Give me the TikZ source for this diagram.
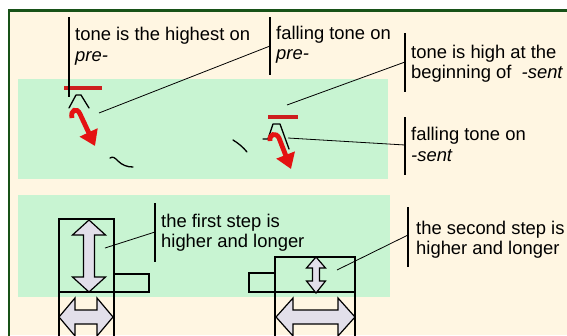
\documentclass[tikz,border=0pt]{standalone}
\usepackage{fontspec}
\setmainfont{Liberation Sans}
\usetikzlibrary{arrows.meta}
\definecolor{cream}{RGB}{255,246,226}
\definecolor{mint}{RGB}{200,244,210}
\definecolor{dkgreen}{RGB}{24,82,24}
\definecolor{tonered}{RGB}{228,18,18}
\definecolor{barred}{RGB}{205,30,30}
\definecolor{arrowfill}{RGB}{226,223,234}
\begin{document}
\begin{tikzpicture}[x=1pt,y=-1pt,
  lbl/.style={anchor=base west, inner sep=0pt, font=\fontsize{18.4}{21}\selectfont},
  labelbar/.style={draw=black, line width=1.3pt},
  leader/.style={draw=black, line width=0.8pt},
  band/.style={fill=mint, draw=none},
  tonebar/.style={draw=barred, line width=4pt},
  tonearrow/.style={draw=tonered, line width=4.8pt, -{Triangle[length=15pt,width=19pt]}},
  contour/.style={draw=black, line width=1.3pt, line join=round, line cap=round},
  stepline/.style={draw=black, line width=1.4pt},
  dblarrow/.style={draw=black, fill=arrowfill, line width=1.2pt, line join=miter}]
\useasboundingbox (0,0) rectangle (567,335);
\clip (0,0) rectangle (567,335);
% background and frame
\fill[white] (0,0) rectangle (567,335);
\fill[cream] (8,10) rectangle (567,335);
\draw[dkgreen, line width=2.6pt] (8.8,336) -- (8.8,10.5) -- (568,10.5);
% bands
\path[band] (18,79) rectangle (388,179);
\path[band] (18,195) rectangle (390,297);

% ---------- upper band marks ----------
\path[tonebar] (64,88) -- (102,88);
\path[tonebar] (268,117) -- (298,117);
\path[contour] (69,108) -- (76,95) -- (81,95) -- (89,108);
\path[contour] (263,139) -- (268,139) -- (273,124) -- (280,124) -- (289,149);
\path[tonearrow] (72,118) .. controls (70,110) and (77,107) .. (80,114) -- (95,146);
\path[tonearrow] (270,141) .. controls (269,134) and (276,132) .. (279,138) -- (291,169);
\path[contour] (110,158) .. controls (113,156) and (115,158) .. (118,161) .. controls (122,165) and (127,167) .. (133,167);
\path[contour] (233,140) .. controls (238,143) and (243,147) .. (247,152);

% ---------- labels ----------
\node[lbl] (l1a) at (75,40) {tone is the highest on};
\node[lbl] (l1b) at (75,61) {\itshape pre-};
\node[lbl] (l2a) at (276,39) {falling tone on};
\node[lbl] (l2b) at (276,59) {\itshape pre-};
\node[lbl] (l3a) at (411,58) {tone is high at the};
\node[lbl] (l3b) at (411,78) {beginning of\ \ \textit{-sent}};
\node[lbl] (l4a) at (411,140) {falling tone on};
\node[lbl] (l4b) at (411,161) {\itshape -sent};
\node[lbl] (l5a) at (161,227) {the first step is};
\node[lbl] (l5b) at (161,247) {higher and longer};
\node[lbl] (l6a) at (416,234) {the second step is};
\node[lbl] (l6b) at (416,254) {higher and longer};

% label bars
\coordinate (b1t) at (69,17);  \coordinate (b1b) at (69,97);
\coordinate (b2t) at (270,17); \coordinate (b2b) at (270,75);
\coordinate (b3t) at (405,33); \coordinate (b3b) at (405,92);
\coordinate (b4t) at (405,117);\coordinate (b4b) at (405,175);
\coordinate (b5t) at (155,203);\coordinate (b5b) at (155,262);
\coordinate (b6t) at (408,207);\coordinate (b6b) at (408,267);
\path[labelbar] (b1t) -- (b1b);
\path[labelbar] (b2t) -- (b2b);
\path[labelbar] (b3t) -- (b3b);
\path[labelbar] (b4t) -- (b4b);
\path[labelbar] (b5t) -- (b5b);
\path[labelbar] (b6t) -- (b6b);

% leaders
\coordinate (k2) at (270,46);  \coordinate (p2) at (99,113);
\coordinate (k3) at (405,62);  \coordinate (p3) at (287,105);
\coordinate (k4) at (405,145); \coordinate (p4) at (288,138);
\coordinate (k5) at (155,232); \coordinate (p5) at (105,248);
\coordinate (k6) at (408,235); \coordinate (p6) at (337,270);
\path[leader] (k2) -- (p2);
\path[leader] (k3) -- (p3);
\path[leader] (k4) -- (p4);
\path[leader] (k5) -- (p5);
\path[leader] (k6) -- (p6);

% ---------- lower band: steps ----------
\path[stepline] (59,219) rectangle (114,292);
\path[stepline] (114,274) rectangle (149,292);
\path[stepline] (59,292) -- (59,336);
\path[stepline] (114,292) -- (114,336);
\path[stepline] (275,257) rectangle (355,292);
\path[stepline] (249,273) rectangle (275,292);
\path[stepline] (275,292) -- (275,336);
\path[stepline] (355,292) -- (355,336);

% double arrows
\path[dblarrow] (89,220) -- (105.5,235) -- (94.5,235) -- (94.5,277) -- (105.5,277) -- (89,292)
  -- (72.5,277) -- (83.5,277) -- (83.5,235) -- (72.5,235) -- cycle;
\path[dblarrow] (59,317) -- (75,298) -- (75,310) -- (97,310) -- (97,298) -- (113,317)
  -- (97,336) -- (97,324) -- (75,324) -- (75,336) -- cycle;
\path[dblarrow] (316,257) -- (325.5,268) -- (319.5,268) -- (319.5,281) -- (325.5,281) -- (316,293)
  -- (306.5,281) -- (312.5,281) -- (312.5,268) -- (306.5,268) -- cycle;
\path[dblarrow] (276,317) -- (293,298) -- (293,310) -- (338,310) -- (338,298) -- (355,317)
  -- (338,336) -- (338,324) -- (293,324) -- (293,336) -- cycle;
\end{tikzpicture}
\end{document}
